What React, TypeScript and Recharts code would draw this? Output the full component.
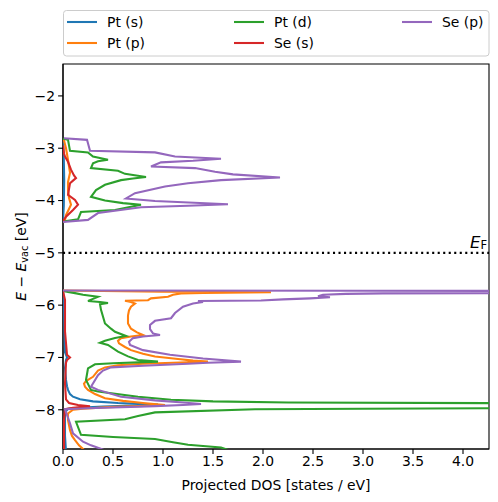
import React from "react";
import {
	ScatterChart,
	Scatter,
	XAxis,
	YAxis,
	ReferenceLine,
	ReferenceArea,
	Label,
} from "recharts";

// [energy (eV), projected DOS] pairs, split by band
const ptSUpper: [number, number][] = [
	[-2.82, 0], [-3.2, 0.008], [-3.6, 0.012], [-4.1, 0.008], [-4.4, 0],
];
const ptSLower: [number, number][] = [
	[-5.73, 0], [-6.0, 0.01], [-6.5, 0.015], [-6.9, 0.02], [-7.0, 0.04], [-7.05, 0.03],
	[-7.2, 0.02], [-7.43, 0.03], [-7.55, 0.04], [-7.62, 0.05], [-7.7, 0.07], [-7.75, 0.1],
	[-7.8, 0.17], [-7.84, 0.3], [-7.87, 0.55], [-7.9, 0.95], [-7.92, 0.7], [-7.94, 0.4],
	[-7.96, 0.15], [-7.98, 0.05], [-8.05, 0.02], [-8.5, 0.02], [-8.8, 0.03],
];
const ptPUpper: [number, number][] = [
	[-2.82, 0], [-2.85, 0.01], [-3.0, 0.03], [-3.22, 0.05], [-3.47, 0.07], [-3.65, 0.05],
	[-3.8, 0.05], [-3.95, 0.06], [-4.08, 0.08], [-4.2, 0.05], [-4.28, 0.03], [-4.38, 0.02],
	[-4.42, 0],
];
const ptPLower: [number, number][] = [
	[-5.72, 0], [-5.745, 1.0], [-5.755, 2.08], [-5.765, 1.4], [-5.775, 1.18], [-5.8, 1.1],
	[-5.84, 1.05], [-5.87, 0.88], [-5.905, 0.85], [-5.915, 0.62], [-5.94, 0.68], [-5.97, 0.72],
	[-6.03, 0.68], [-6.1, 0.66], [-6.2, 0.65], [-6.35, 0.65], [-6.45, 0.68], [-6.52, 0.74],
	[-6.57, 0.8], [-6.6, 0.68], [-6.63, 0.58], [-6.68, 0.55], [-6.73, 0.56], [-6.8, 0.62],
	[-6.86, 0.68], [-6.93, 0.8], [-6.98, 0.92], [-7.03, 1.15], [-7.06, 1.3], [-7.08, 1.45],
	[-7.1, 1.1], [-7.12, 0.8], [-7.15, 0.55], [-7.19, 0.42], [-7.25, 0.35], [-7.37, 0.3],
	[-7.45, 0.23], [-7.5, 0.21], [-7.56, 0.22], [-7.62, 0.25], [-7.7, 0.32], [-7.78, 0.42],
	[-7.83, 0.6], [-7.87, 0.8], [-7.91, 1.02], [-7.93, 0.75], [-7.95, 0.45], [-7.98, 0.2],
	[-8.0, 0.1], [-8.07, 0.05], [-8.2, 0.05], [-8.39, 0.07], [-8.5, 0.09], [-8.58, 0.12],
	[-8.68, 0.16], [-8.8, 0.23],
];
const ptDUpper: [number, number][] = [
	[-2.82, 0], [-2.84, 0.05], [-3.05, 0.07], [-3.08, 0.25], [-3.16, 0.3], [-3.22, 0.45],
	[-3.25, 0.35], [-3.29, 0.3], [-3.38, 0.28], [-3.43, 0.55], [-3.49, 0.62], [-3.55, 0.83],
	[-3.58, 0.7], [-3.61, 0.58], [-3.7, 0.42], [-3.8, 0.33], [-3.93, 0.28], [-4.0, 0.42],
	[-4.05, 0.6], [-4.08, 0.78], [-4.12, 0.68], [-4.18, 0.52], [-4.22, 0.18], [-4.36, 0.15],
	[-4.4, 0],
];
const ptDLower: [number, number][] = [
	[-5.73, 0], [-5.75, 0.05], [-5.77, 0.12], [-5.8, 0.2], [-5.84, 0.35], [-5.88, 0.3],
	[-5.92, 0.25], [-5.94, 0.37], [-5.96, 0.45], [-5.98, 0.37], [-6.09, 0.38], [-6.35, 0.42],
	[-6.45, 0.48], [-6.51, 0.52], [-6.59, 0.63], [-6.63, 0.52], [-6.68, 0.42], [-6.72, 0.37],
	[-6.76, 0.45], [-6.89, 0.55], [-6.98, 0.65], [-7.05, 0.75], [-7.08, 0.95], [-7.11, 0.5],
	[-7.13, 0.32], [-7.21, 0.25], [-7.43, 0.23], [-7.62, 0.28], [-7.65, 0.35], [-7.75, 0.75],
	[-7.81, 1.08], [-7.84, 1.5], [-7.86, 2.25], [-7.875, 4.5], [-7.88, 6], [-7.96, 6],
	[-7.98, 3.0], [-7.99, 1.92], [-8.05, 0.92], [-8.12, 0.75], [-8.18, 0.62], [-8.23, 0.13],
	[-8.48, 0.18], [-8.52, 0.5], [-8.56, 0.92], [-8.62, 1.1], [-8.67, 1.25], [-8.72, 1.58],
	[-8.8, 1.7],
];
const seSUpper: [number, number][] = [
	[-2.95, 0], [-3.1, 0.01], [-3.16, 0.02], [-3.26, 0.05], [-3.41, 0.08], [-3.52, 0.11],
	[-3.57, 0.13], [-3.62, 0.1], [-3.67, 0.07], [-3.89, 0.05], [-3.99, 0.12], [-4.08, 0.15],
	[-4.18, 0.1], [-4.31, 0.03], [-4.39, 0],
];
const seSLower: [number, number][] = [
	[-5.73, 0], [-5.9, 0.02], [-6.5, 0.02], [-6.95, 0.04], [-7.0, 0.07], [-7.05, 0.04],
	[-7.1, 0.03], [-7.5, 0.02], [-7.8, 0.03], [-7.87, 0.06], [-7.91, 0.15], [-7.935, 0.27],
	[-7.96, 0.1], [-7.99, 0.02], [-8.2, 0.01], [-8.8, 0.01],
];
const sePUpper: [number, number][] = [
	[-2.81, 0.01], [-2.84, 0.24], [-3.05, 0.27], [-3.08, 0.92], [-3.16, 1.12], [-3.2, 1.58],
	[-3.24, 1.3], [-3.27, 0.98], [-3.35, 0.88], [-3.38, 1.32], [-3.45, 1.52], [-3.5, 1.7],
	[-3.56, 2.17], [-3.61, 1.58], [-3.67, 1.25], [-3.73, 1.02], [-3.86, 0.72], [-3.96, 0.63],
	[-4.01, 0.92], [-4.07, 1.65], [-4.1, 1.25], [-4.13, 0.78], [-4.24, 0.35], [-4.37, 0.25],
	[-4.41, 0],
];
const sePLower: [number, number][] = [
	[-5.72, 0], [-5.725, 3], [-5.73, 6], [-5.765, 6], [-5.775, 3.2], [-5.785, 2.83],
	[-5.8, 2.6], [-5.83, 2.55], [-5.85, 2.67], [-5.87, 2.47], [-5.89, 2.2], [-5.91, 1.98],
	[-5.92, 1.35], [-5.94, 1.4], [-5.97, 1.3], [-6.03, 1.2], [-6.15, 1.12], [-6.25, 1.08],
	[-6.3, 0.92], [-6.38, 0.87], [-6.46, 0.87], [-6.54, 0.9], [-6.57, 0.97], [-6.6, 0.8],
	[-6.63, 0.7], [-6.7, 0.66], [-6.76, 0.67], [-6.86, 0.8], [-6.95, 1.07], [-7.02, 1.4],
	[-7.08, 1.78], [-7.1, 1.45], [-7.12, 1.25], [-7.16, 0.8], [-7.19, 0.48], [-7.25, 0.4],
	[-7.34, 0.35], [-7.56, 0.28], [-7.62, 0.35], [-7.75, 0.58], [-7.82, 0.92], [-7.86, 1.2],
	[-7.89, 1.38], [-7.91, 1.2], [-7.93, 0.92], [-7.97, 0.25], [-7.99, 0.02], [-8.1, 0.04],
	[-8.26, 0.07], [-8.45, 0.1], [-8.61, 0.2], [-8.68, 0.28], [-8.74, 0.37], [-8.8, 0.45],
];

const xTicks = [0, 0.5, 1, 1.5, 2, 2.5, 3, 3.5, 4];
const yTicks = [-8, -7, -6, -5, -4, -3, -2];
const xDomain: [number, number] = [0, 4.26];
const yDomain: [number, number] = [-8.75, -1.39];
const fermiLevel = -5;

const series = [
	{ name: "Pt (s)", color: "#1f77b4", bands: [ptSUpper, ptSLower] },
	{ name: "Pt (p)", color: "#ff7f0e", bands: [ptPUpper, ptPLower] },
	{ name: "Pt (d)", color: "#2ca02c", bands: [ptDUpper, ptDLower] },
	{ name: "Se (s)", color: "#d62728", bands: [seSUpper, seSLower] },
	{ name: "Se (p)", color: "#9467bd", bands: [sePUpper, sePLower] },
];

const FONT = "DejaVu Sans, sans-serif";
const FS = 13.9;
const LW = 2.08; // 1.5pt at 100 dpi

const toPoints = (arr: [number, number][]) => arr.map(([e, d]) => ({ x: d, y: e }));
const noDot = () => <g />;

function YLabel(props: any) {
	const vb = props.viewBox ?? { x: 0, y: 0, width: 0, height: 0 };
	const cx = 21;
	const cy = vb.y + vb.height / 2;
	return (
		<text
			x={cx}
			y={cy}
			transform={`rotate(-90 ${cx} ${cy})`}
			textAnchor="middle"
			dominantBaseline="central"
			fontFamily={FONT}
			fontSize={FS}
			fill="#000"
		>
			<tspan fontStyle="italic">E</tspan>
			<tspan> − </tspan>
			<tspan fontStyle="italic">E</tspan>
			<tspan fontSize={FS * 0.7} dy={3}>vac</tspan>
			<tspan dy={-3}> [eV]</tspan>
		</text>
	);
}

function FermiLabel(props: any) {
	const vb = props.viewBox ?? { x: 0, y: 0, width: 0 };
	return (
		<text
			x={vb.x + vb.width - 2}
			y={vb.y - 5}
			textAnchor="end"
			fontFamily={FONT}
			fontSize={16.5}
			fill="#000"
		>
			<tspan fontStyle="italic">E</tspan>
			<tspan fontSize={11.5} dy={1}>F</tspan>
		</text>
	);
}

function LegendBox() {
	const cols = [67, 234, 402];
	const rows = [22, 43];
	return (
		<svg
			width={498}
			height={60}
			style={{ position: "absolute", left: 0, top: 0 }}
		>
			<rect x={63.5} y={10.5} width={425.5} height={45.5} rx={3} fill="#fff" stroke="#cccccc" />
			{series.map((s, i) => {
				const cx = cols[Math.floor(i / 2)];
				const cy = rows[i % 2];
				return (
					<g key={s.name}>
						<line x1={cx} x2={cx + 30} y1={cy} y2={cy} stroke={s.color} strokeWidth={LW} />
						<text
							x={cx + 40}
							y={cy}
							dominantBaseline="central"
							fontFamily={FONT}
							fontSize={FS}
							fill="#000"
						>
							{s.name}
						</text>
					</g>
				);
			})}
		</svg>
	);
}

export default function App() {
	const tickStyle = { fill: "#000", fontSize: FS, fontFamily: FONT };
	const axisLine = { stroke: "#000", strokeWidth: 1.1 };
	return (
		<div style={{ position: "absolute", left: 0, top: 0, width: 498, height: 502, background: "#fff" }}>
			<ScatterChart
				width={498}
				height={502}
				margin={{ top: 64, right: 9, bottom: 0, left: 0 }}
			>
				<XAxis
					type="number"
					dataKey="x"
					domain={xDomain}
					allowDataOverflow
					ticks={xTicks}
					tickFormatter={(v: number) => v.toFixed(1)}
					tick={tickStyle}
					tickSize={4.9}
					tickMargin={2.5}
					height={53}
					axisLine={axisLine}
					tickLine={axisLine}
					interval={0}
				>
					<Label
						value="Projected DOS [states / eV]"
						position="insideBottom"
						offset={12}
						style={{ fill: "#000", fontSize: FS, fontFamily: FONT }}
					/>
				</XAxis>
				<YAxis
					type="number"
					dataKey="y"
					domain={yDomain}
					allowDataOverflow
					ticks={yTicks}
					tickFormatter={(v: number) => String(v).replace("-", "\u2212")}
					tick={tickStyle}
					tickSize={4.9}
					tickMargin={3}
					width={63}
					axisLine={axisLine}
					tickLine={axisLine}
					interval={0}
				>
					<Label content={YLabel} />
				</YAxis>
				{series.map((s) =>
					s.bands.map((band, bi) => (
						<Scatter
							key={`${s.name}-${bi}`}
							name={s.name}
							data={toPoints(band)}
							line={{ stroke: s.color, strokeWidth: LW }}
							lineType="joint"
							shape={noDot}
							legendType="none"
							isAnimationActive={false}
						/>
					)),
				)}
				<ReferenceLine
					y={fermiLevel}
					stroke="#000"
					strokeWidth={LW}
					strokeDasharray="2.08 3.43"
					label={<FermiLabel />}
				/>
				<ReferenceArea
					x1={xDomain[0]}
					x2={xDomain[1]}
					y1={yDomain[0]}
					y2={yDomain[1]}
					fill="none"
					fillOpacity={0}
					stroke="#000"
					strokeWidth={1.1}
				/>
			</ScatterChart>
			<LegendBox />
		</div>
	);
}
